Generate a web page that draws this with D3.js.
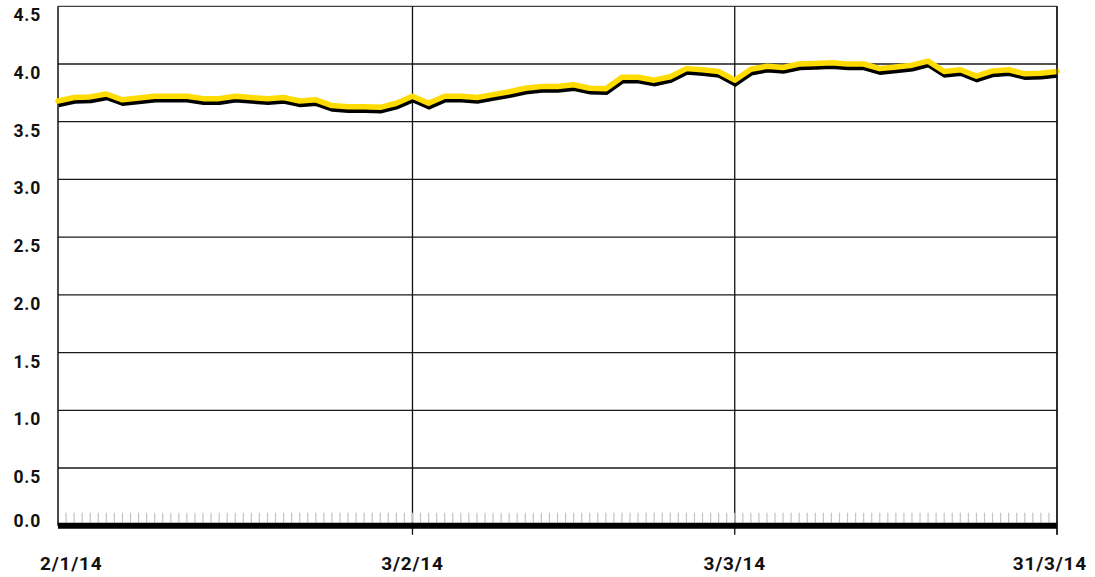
<!DOCTYPE html>
<html><head><meta charset="utf-8">
<script src="https://cdn.jsdelivr.net/npm/d3@7"></script>
<style>
html,body{margin:0;padding:0;background:#fff;}
svg text{font-family:Roboto,"DejaVu Sans",sans-serif;font-weight:700;fill:#111;}
</style></head>
<body><svg id="chart" width="1095" height="577"></svg>
<script>
const dates = [
"2/1/14","3/1/14","6/1/14","7/1/14","8/1/14","9/1/14","10/1/14","13/1/14","14/1/14","15/1/14","16/1/14","17/1/14","20/1/14","21/1/14","22/1/14","23/1/14","24/1/14","27/1/14","28/1/14","29/1/14","30/1/14","31/1/14",
"3/2/14","4/2/14","5/2/14","6/2/14","7/2/14","10/2/14","11/2/14","12/2/14","13/2/14","14/2/14","17/2/14","18/2/14","19/2/14","20/2/14","21/2/14","24/2/14","25/2/14","26/2/14","27/2/14","28/2/14",
"3/3/14","4/3/14","5/3/14","6/3/14","7/3/14","10/3/14","11/3/14","12/3/14","13/3/14","14/3/14","17/3/14","18/3/14","19/3/14","20/3/14","21/3/14","24/3/14","25/3/14","26/3/14","27/3/14","28/3/14","31/3/14"];
const values = [
3.68,3.71,3.715,3.74,3.69,3.705,3.72,3.72,3.72,3.70,3.70,3.72,3.71,3.70,3.71,3.68,3.69,3.64,3.63,3.63,3.625,3.66,
3.72,3.66,3.72,3.72,3.71,3.735,3.76,3.79,3.805,3.805,3.82,3.79,3.785,3.885,3.885,3.86,3.89,3.96,3.95,3.935,
3.86,3.955,3.98,3.97,4.0,4.005,4.01,4.0,4.0,3.96,3.975,3.99,4.025,3.935,3.95,3.895,3.94,3.95,3.915,3.92,3.935];
const xTickLabels = ["2/1/14","3/2/14","3/3/14","31/3/14"];
const yTicks = [0,0.5,1.0,1.5,2.0,2.5,3.0,3.5,4.0,4.5];

const svg = d3.select("#chart");
const L=58, R=1057, T=6.3, B=525.7;
const x = d3.scalePoint().domain(dates).range([L,R]);
const y = d3.scaleLinear().domain([0,4.5]).range([B,T]);

svg.append("g").selectAll("line").data(yTicks.filter(v=>v>0&&v<4.5)).join("line")
  .attr("x1",L).attr("x2",R).attr("y1",d=>y(d)).attr("y2",d=>y(d))
  .attr("stroke","#1a1a1a").attr("stroke-width",1.3);
svg.append("line").attr("x1",L).attr("x2",R).attr("y1",y(4.5)).attr("y2",y(4.5))
  .attr("stroke","#444").attr("stroke-width",1.2);
svg.append("line").attr("x1",L).attr("x2",L).attr("y1",y(4.5)).attr("y2",y(0))
  .attr("stroke","#111").attr("stroke-width",1.5);
svg.append("g").selectAll("line").data(xTickLabels.slice(1)).join("line")
  .attr("x1",d=>x(d)).attr("x2",d=>x(d)).attr("y1",y(4.5)).attr("y2",y(0)+9)
  .attr("stroke","#111").attr("stroke-width",1.3);

const step = x.step();
const minor = d3.range(1, (dates.length-1)*2).map(k=>L+k*step/2);
svg.append("g").selectAll("line").data(minor).join("line")
  .attr("x1",d=>d).attr("x2",d=>d).attr("y1",y(0)-13).attr("y2",y(0)-3)
  .attr("stroke","#c4c4c4").attr("stroke-width",1.2);
svg.append("line").attr("x1",L).attr("x2",R).attr("y1",y(0)).attr("y2",y(0))
  .attr("stroke","#000").attr("stroke-width",6);

svg.append("g").selectAll("text").data(yTicks).join("text")
  .attr("x",41).attr("text-anchor","end")
  .attr("y",d=>d===0? y(d)-5 : y(d)+9)
  .attr("dominant-baseline","central")
  .style("font-size","17.5px").style("letter-spacing","0.8px")
  .text(d=>d.toFixed(1));

const xl = svg.append("g").selectAll("text").data(xTickLabels).join("text")
  .attr("x",d=>x(d)).attr("y",563).attr("text-anchor","middle")
  .attr("dominant-baseline","central")
  .style("font-size","19px").style("letter-spacing","0.8px")
  .text(d=>d);
xl.each(function(){
  const bb=this.getBBox(); let cx=bb.x+bb.width/2;
  if(bb.x<40) cx = 40+bb.width/2;
  if(bb.x+bb.width>1087) cx = 1087-bb.width/2;
  d3.select(this).attr("x",cx);
});

const line = d3.line().x((d,i)=>x(dates[i])).y(d=>y(d));
svg.append("path").datum(values).attr("d",line).attr("fill","none")
  .attr("stroke","#000").attr("stroke-width",5.5).attr("stroke-linejoin","miter")
  .attr("transform","translate(0.5,3.5)");
svg.append("path").datum(values).attr("d",line).attr("fill","none")
  .attr("stroke","#ffdc00").attr("stroke-width",5.5).attr("stroke-linejoin","round").attr("stroke-linecap","round");
svg.append("line").attr("x1",R).attr("x2",R).attr("y1",y(4.5)).attr("y2",y(0)+9)
  .attr("stroke","#111").attr("stroke-width",1.3);
</script></body></html>
